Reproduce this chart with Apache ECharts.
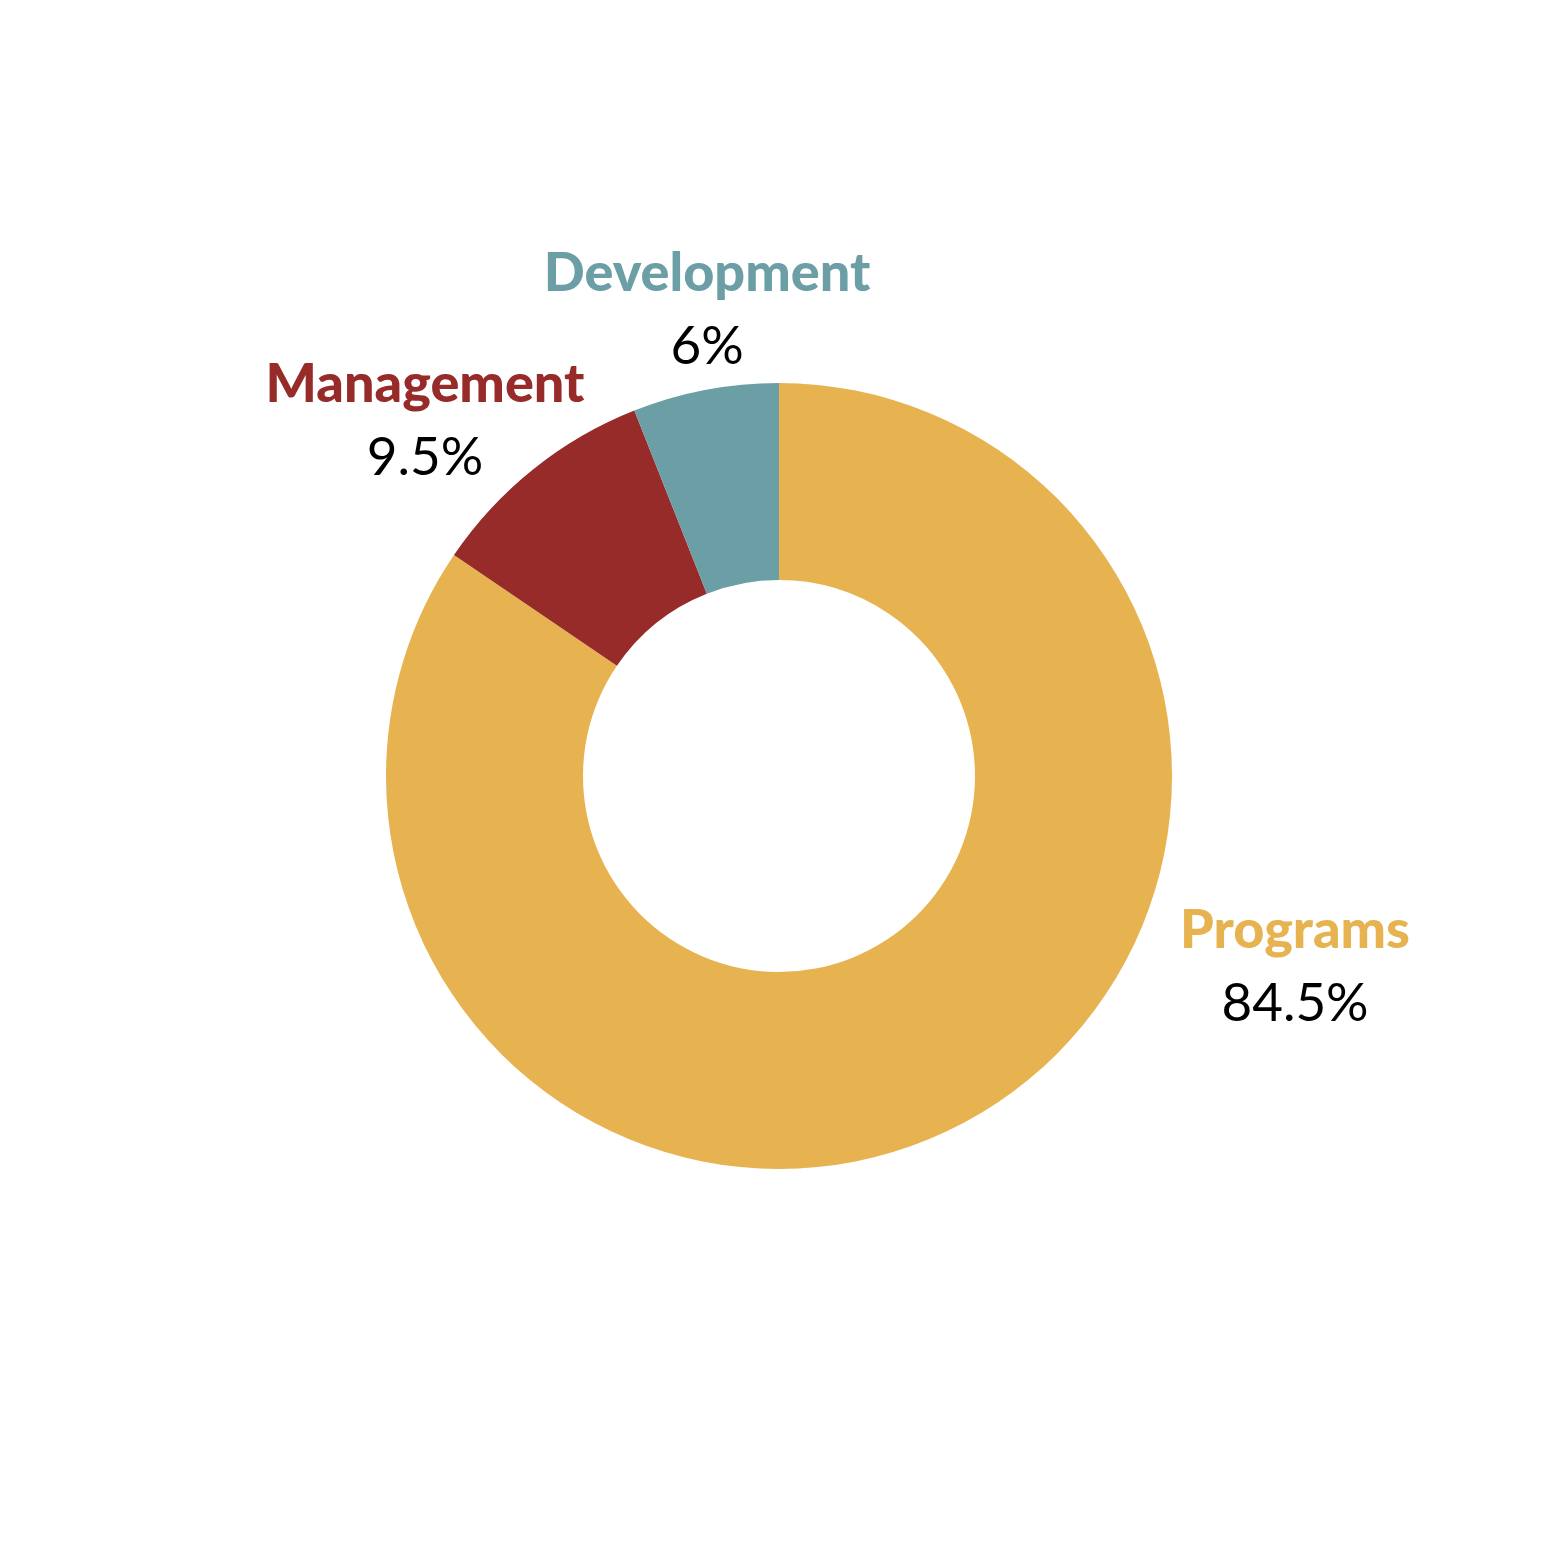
<!DOCTYPE html>
<html>
<head>
<meta charset="utf-8">
<title>Expenses</title>
<script src="https://cdn.jsdelivr.net/npm/echarts@6/dist/echarts.min.js"></script>
<style>
  html, body { margin: 0; padding: 0; background: #fff; }
  #chart { width: 1559px; height: 1555px; }
</style>
</head>
<body>
<div id="chart"></div>
<script>
// data
var categories = ['Programs', 'Management', 'Development'];
var shares = [84.5, 9.5, 6];
var colors = ['#E6B350', '#962B2A', '#6B9EA5'];

// where each label block sits (center of the two lines)
var labelPos = [[1295, 967], [425, 421], [707, 310]];

var myChart = echarts.init(document.getElementById('chart'));

var rich = {
    p: { fontFamily: 'Lato', fontSize: 53, color: '#000', lineHeight: 73 }
};
colors.forEach(function (c, i) {
    rich['n' + i] = { fontFamily: 'Lato', fontWeight: 900, fontSize: 54, color: c, lineHeight: 73 };
});

var option = {
    animation: false,
    color: colors,
    series: [{
        type: 'pie',
        center: [779, 776],
        radius: [196, 393],
        startAngle: 90,
        clockwise: true,
        silent: true,
        label: {
            show: true,
            position: 'outside',
            formatter: function (p) {
                return '{n' + p.dataIndex + '|' + p.name + '}\n{p|' + p.value + '%}';
            },
            rich: rich
        },
        labelLine: { show: false },
        labelLayout: function (params) {
            var pos = labelPos[params.dataIndex];
            return { x: pos[0], y: pos[1], align: 'center', verticalAlign: 'middle' };
        },
        data: categories.map(function (name, i) {
            return { name: name, value: shares[i] };
        })
    }]
};

myChart.setOption(option);
</script>
</body>
</html>
